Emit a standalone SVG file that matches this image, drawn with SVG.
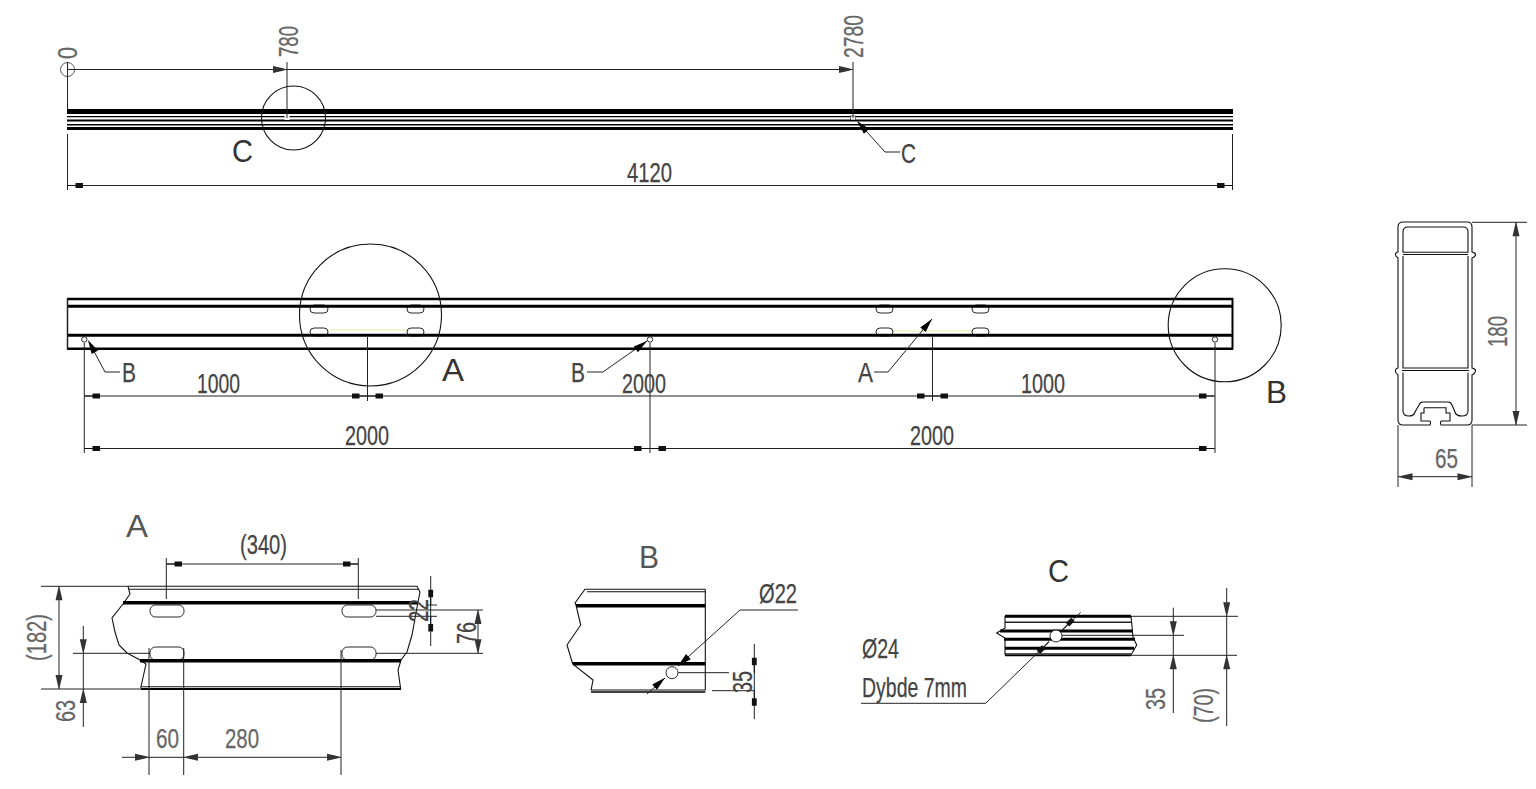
<svg xmlns="http://www.w3.org/2000/svg" width="1536" height="789" viewBox="0 0 1536 789">
<style>
text{font-family:"Liberation Sans",Arial,sans-serif;font-size:28px;fill:#444;stroke:#444;stroke-width:.25}
.g{fill:#666;stroke:#666}
.L{font-size:32px;fill:#333;stroke:none}
.Lg{font-size:32px;fill:#555;stroke:none}
.d{fill:none;stroke:#222;stroke-width:1}
.o{fill:none;stroke:#111;stroke-width:1.1}
.m{fill:none;stroke:#000;stroke-width:2}
.b{fill:none;stroke:#000;stroke-width:3}
.s{fill:#fff;stroke:#111;stroke-width:.9}
.y{fill:none;stroke:#f3f3c4;stroke-width:1.5}
.at{fill:#333}
.ab{fill:#111}
</style>
<defs>
<path id="t" class="at" d="M0 0L4 -1.200L14 -3.500V3.500L4 1.200Z"/>
<path id="tk" d="M0 0L14 -3.600V3.600Z" fill="#000"/>
<path id="r" class="ab" d="M0 -.5H7.500V-2.400H15V2.400H7.500V.5H0Z"/>
</defs>
<rect width="1536" height="789" fill="#fff"/>

<g id="view-top">
<rect x="67" y="109" width="1166" height="5" fill="#000"/>
<path class="m" d="M67 116.600H1233M67 124.800H1233" style="stroke-width:1.400"/>
<path class="m" d="M67 120.600H1233"/>
<rect x="67" y="127" width="1166" height="3" fill="#000"/>
<rect x="284.500" y="116" width="5" height="4" fill="#fff"/>
<rect x="850.500" y="116" width="5" height="4" fill="#fff" stroke="#111" stroke-width=".6"/>
<circle class="o" cx="293.500" cy="118" r="32"/>
<circle cx="67.500" cy="69.500" r="7" fill="none" stroke="#555" stroke-width="1"/>
<path class="d" d="M67.500 62V109M67.500 134V190M1232.500 134V190M287 62V118M853 62V118M67 69.500H853M67 185.500H1232"/>
<use href="#t" transform="translate(287 69.500) rotate(180)"/>
<use href="#t" transform="translate(853 69.500) rotate(180)"/>
<use href="#r" transform="translate(68 185.500)"/>
<use href="#r" transform="translate(1232 185.500) rotate(180)"/>
<path class="d" d="M858 122L885 152H900"/>
<use href="#tk" transform="translate(857 121) rotate(47)"/>
<text class="g" transform="translate(77 59) rotate(-90)" textLength="12" lengthAdjust="spacingAndGlyphs">0</text>
<text class="g" transform="translate(298 57) rotate(-90)" textLength="31" lengthAdjust="spacingAndGlyphs">780</text>
<text class="g" transform="translate(863 58) rotate(-90) scale(.69 1)">2780</text>
<text x="627" y="182" textLength="45" lengthAdjust="spacingAndGlyphs">4120</text>
<text class="L" x="232" y="162" textLength="21" lengthAdjust="spacingAndGlyphs">C</text>
<text x="901" y="163" textLength="15" lengthAdjust="spacingAndGlyphs">C</text>
</g>

<g id="view-front">
<path class="y" d="M328 330H407M893 331H972"/>
<rect class="s" x="310" y="305" width="18" height="8" rx="4"/>
<rect class="s" x="407" y="305" width="17" height="8" rx="4"/>
<rect class="s" x="310" y="328" width="18" height="8" rx="4"/>
<rect class="s" x="407" y="328" width="17" height="8" rx="4"/>
<rect class="s" x="876" y="305" width="17" height="8" rx="4"/>
<rect class="s" x="972" y="305" width="17" height="8" rx="4"/>
<rect class="s" x="876" y="328" width="17" height="8" rx="4"/>
<rect class="s" x="972" y="328" width="17" height="8" rx="4"/>
<path class="m" d="M67 299H1233M67 348.700H1233" style="stroke-width:2.500"/>
<path class="b" d="M67 306.300H1233M67 335.300H1233"/>
<path class="d" d="M67.500 298V349.500" style="stroke-width:1.500"/>
<path class="m" d="M1232.500 298V349.500"/>
<circle class="s" cx="84.300" cy="339.500" r="2.700"/>
<circle class="s" cx="650" cy="339.500" r="2.700"/>
<circle class="s" cx="1215" cy="339.500" r="2.700"/>
<circle class="o" cx="370.500" cy="315" r="71"/>
<circle class="o" cx="1224.700" cy="325.300" r="56.500"/>
<path class="d" d="M84.300 343V453M367.500 337V401M650 343V453M932.500 337V401M1215 343V453M84 396H1215M84 448.500H1215"/>
<use href="#r" transform="translate(85 396)"/>
<use href="#r" transform="translate(367 396) rotate(180)"/>
<use href="#r" transform="translate(368 396)"/>
<use href="#r" transform="translate(932 396) rotate(180)"/>
<use href="#r" transform="translate(933 396)"/>
<use href="#r" transform="translate(1214 396) rotate(180)"/>
<use href="#r" transform="translate(85 448.500)"/>
<use href="#r" transform="translate(649 448.500) rotate(180)"/>
<use href="#r" transform="translate(651 448.500)"/>
<use href="#r" transform="translate(1214 448.500) rotate(180)"/>
<path class="d" d="M120 372H105L89 342"/>
<use href="#tk" transform="translate(88 340) rotate(61)"/>
<path class="d" d="M587 372H603L647 341"/>
<use href="#tk" transform="translate(647 341) rotate(143)"/>
<path class="d" d="M874 372H888L932 319"/>
<use href="#tk" transform="translate(932 319) rotate(130)"/>
<text x="197" y="393" textLength="43" lengthAdjust="spacingAndGlyphs">1000</text>
<text x="622" y="393" textLength="44" lengthAdjust="spacingAndGlyphs">2000</text>
<text x="1021" y="393" textLength="44" lengthAdjust="spacingAndGlyphs">1000</text>
<text x="345" y="445" textLength="44" lengthAdjust="spacingAndGlyphs">2000</text>
<text x="910" y="445" textLength="44" lengthAdjust="spacingAndGlyphs">2000</text>
<text class="L" x="442" y="381" textLength="22" lengthAdjust="spacingAndGlyphs">A</text>
<text class="L" x="1266" y="403" textLength="21" lengthAdjust="spacingAndGlyphs">B</text>
<text x="122" y="382" textLength="14" lengthAdjust="spacingAndGlyphs">B</text>
<text x="571" y="382" textLength="14" lengthAdjust="spacingAndGlyphs">B</text>
<text x="858" y="382" textLength="15" lengthAdjust="spacingAndGlyphs">A</text>
</g>

<g id="view-section">
<path class="o" d="M1430 421Q1431 423 1430 425H1403Q1398 425 1398 420V375Q1395 373 1395.500 370.500Q1396 368 1398 368V258Q1395 256 1395.500 254Q1396 252 1398 252V227Q1398 222 1403 222H1467Q1472 222 1472 227V252Q1476 253 1475.500 255Q1475 257 1472 258V368Q1476 369 1475.500 371Q1475 374 1472 375V420Q1472 425 1467 425H1441Q1440 423 1441 421"/>
<path class="o" d="M1408 227H1463Q1468 227 1468 232V252.300H1403V232Q1403 227 1408 227ZM1403 254.500H1468M1403 256V368H1468V256M1402 370.500H1469"/>
<path class="o" d="M1403 372.600V411Q1403 416 1409 416Q1414 416 1415 412L1419 405Q1420 402 1423 402H1448Q1451 402 1452 405L1455 412Q1456 416 1462 416Q1468 416 1468 411V372.600"/>
<path class="o" d="M1424 407.700H1446V413H1450V421H1441M1424 407.700V413H1421V421H1430"/>
<path class="d" d="M1472 222.300H1527M1472 425H1527M1516 222.300V425M1398 425V487M1472 425V487M1398 476.700H1472"/>
<use href="#t" transform="translate(1516 222.300) rotate(90)"/>
<use href="#t" transform="translate(1516 425) rotate(-90)"/>
<use href="#t" transform="translate(1398.500 476.700)"/>
<use href="#t" transform="translate(1471.500 476.700) rotate(180)"/>
<text class="g" transform="translate(1507 347) rotate(-90)" textLength="31" lengthAdjust="spacingAndGlyphs">180</text>
<text class="g" x="1435" y="468" textLength="23" lengthAdjust="spacingAndGlyphs">65</text>
</g>

<g id="detail-a">
<rect class="s" x="150" y="605" width="34" height="12" rx="5.500"/>
<rect class="s" x="342" y="605" width="34" height="12" rx="5.500"/>
<rect class="s" x="150" y="647" width="34" height="13" rx="5.500"/>
<rect class="s" x="342" y="647" width="34" height="13" rx="5.500"/>
<path class="o" d="M128 586.300H417L420 592L418 602L412 635L407 652L401 660L398 670L400.700 689M128 586.300L130 594L123 604L112 618L115 632L119 645L127 653L140 660L146 664L140.700 688M129 589.300H419M141 686.700H400.700"/>
<path class="m" d="M141 689H401"/>
<path class="b" d="M123 602.700H418M140 660.700H401" style="stroke-width:3.500"/>
<path class="d" d="M166.300 558V599M358.300 558V599M166 564H358M41 586.300H128M41 689H141M59 586.300V689M83.300 626V727M73 653.300H150M430.700 576V646M428 605H437M376 610H483M376 616.300H437M376 653.300H483M478 610V653.300M149 648V775M183.700 648V775M341 650V775M122 757.300H341"/>
<use href="#r" transform="translate(167 564)"/>
<use href="#r" transform="translate(358 564) rotate(180)"/>
<use href="#t" transform="translate(59 586.300) rotate(90)"/>
<use href="#t" transform="translate(59 689) rotate(-90)"/>
<use href="#t" transform="translate(83.300 653.300) rotate(-90)"/>
<use href="#t" transform="translate(83.300 689) rotate(90)"/>
<use href="#r" transform="translate(430.700 604.700) rotate(-90)"/>
<use href="#r" transform="translate(430.700 616.500) rotate(90)"/>
<use href="#t" transform="translate(478 610) rotate(90)"/>
<use href="#t" transform="translate(478 653.300) rotate(-90)"/>
<use href="#t" transform="translate(149 757.300) rotate(180)"/>
<use href="#t" transform="translate(184 757.300)"/>
<use href="#t" transform="translate(341 757.300) rotate(180)"/>
<text class="Lg" x="126" y="537" textLength="22" lengthAdjust="spacingAndGlyphs">A</text>
<text x="240" y="554" textLength="47" lengthAdjust="spacingAndGlyphs">(340)</text>
<text class="g" transform="translate(46 661) rotate(-90)" textLength="47" lengthAdjust="spacingAndGlyphs">(182)</text>
<text class="g" transform="translate(75 722) rotate(-90)" textLength="22" lengthAdjust="spacingAndGlyphs">63</text>
<text transform="translate(428 622) rotate(-90)" textLength="23" lengthAdjust="spacingAndGlyphs">22</text>
<text transform="translate(476 644) rotate(-90)" textLength="22" lengthAdjust="spacingAndGlyphs">76</text>
<text class="g" x="156" y="748" textLength="23" lengthAdjust="spacingAndGlyphs">60</text>
<text class="g" x="225" y="748" textLength="34" lengthAdjust="spacingAndGlyphs">280</text>
</g>

<g id="detail-b">
<path class="o" d="M705.300 589.300H585L575 603L576 605L580.700 625L567 645L572.700 664L593 680L591 690.500M587 591.700H705.300M591 690H705.300V589.300"/>
<path class="m" d="M591 692H705.300" style="stroke-width:1.300"/>
<path class="b" d="M576 605.700H705.300M573 663.700H705.300" style="stroke-width:3.500"/>
<circle class="s" cx="672" cy="672.700" r="6"/>
<path class="d" d="M678 672.700H729M712 690.700H755M754.300 644V719M798 610H740L678 666M665 678L647 694"/>
<use href="#r" transform="translate(754.300 672.700) rotate(-90)"/>
<use href="#r" transform="translate(754.300 690.700) rotate(90)"/>
<use href="#tk" transform="translate(678 666) rotate(-42)"/>
<use href="#tk" transform="translate(665 677.700) rotate(138)"/>
<text class="Lg" x="639" y="568" textLength="20" lengthAdjust="spacingAndGlyphs">B</text>
<text x="759" y="603" textLength="38" lengthAdjust="spacingAndGlyphs">Ø22</text>
<text transform="translate(752 693) rotate(-90)" textLength="22" lengthAdjust="spacingAndGlyphs">35</text>
</g>

<g id="detail-c">
<path class="m" d="M1005 616.300H1131M1000 631H1133M1004 639.300H1135M1005 648.300H1134" style="stroke-width:3"/>
<path class="d" d="M1005 622.300H1131M1005 654H1131" style="stroke-width:1.400"/>
<path class="m" d="M1005 655.500H1131" style="stroke-width:1.500"/>
<path class="o" d="M1005 616V628L996.700 633L1005 638V655M1131 616L1133 637L1136.700 645L1131 655"/>
<circle class="s" cx="1056" cy="636" r="6"/>
<path class="d" d="M1131 616.300H1238M1131 655.300H1237M1062 635.300H1184M1173.300 607.700V713M1226.700 588V726M861 703.300H985.700L1049 641.700M1062.300 630L1080.700 612.300"/>
<use href="#t" transform="translate(1173.300 635.300) rotate(-90)"/>
<use href="#t" transform="translate(1173.300 655.300) rotate(90)"/>
<use href="#t" transform="translate(1226.700 616.300) rotate(-90)"/>
<use href="#t" transform="translate(1226.700 655.300) rotate(90)"/>
<use href="#r" transform="translate(1049 641.700) rotate(135)"/>
<use href="#r" transform="translate(1062.300 630) rotate(-45)"/>
<text class="L" x="1048" y="582" textLength="21" lengthAdjust="spacingAndGlyphs">C</text>
<text x="862" y="658" textLength="37" lengthAdjust="spacingAndGlyphs">Ø24</text>
<text x="862" y="697" textLength="105" lengthAdjust="spacingAndGlyphs">Dybde 7mm</text>
<text class="g" transform="translate(1165 710) rotate(-90)" textLength="22" lengthAdjust="spacingAndGlyphs">35</text>
<text class="g" transform="translate(1213 723) rotate(-90)" textLength="35" lengthAdjust="spacingAndGlyphs">(70)</text>
</g>
</svg>
